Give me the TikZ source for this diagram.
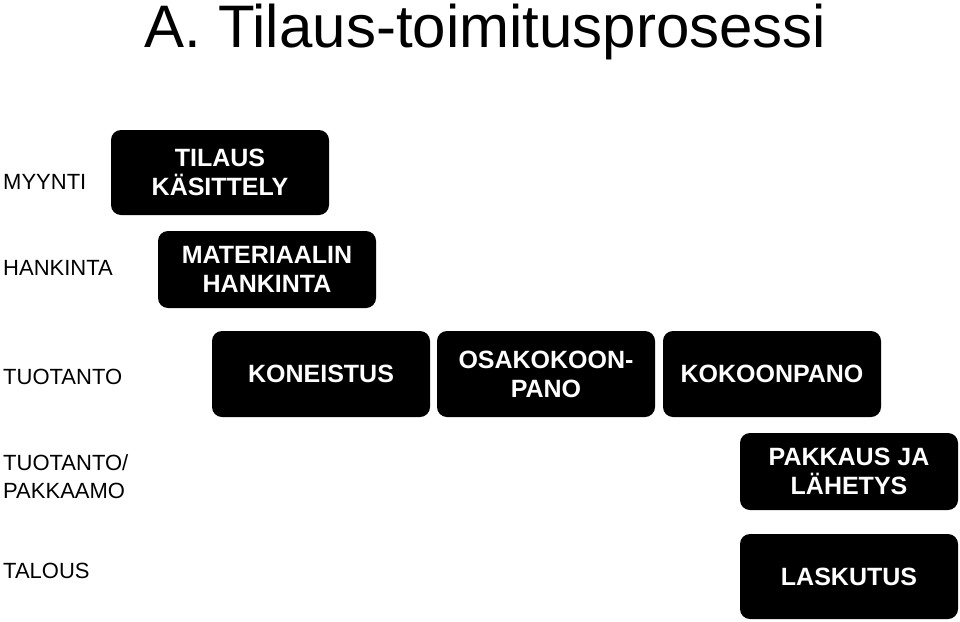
\documentclass[tikz,border=0pt]{standalone}
\usepackage{fontspec}
\setmainfont{Liberation Sans}
\begin{document}
\begin{tikzpicture}[x=1pt,y=-1pt,
  box/.style={fill=black, rounded corners=10pt, inner sep=0pt, text=white,
    font=\fontsize{25}{29}\selectfont\bfseries, align=center,
    minimum width=218pt},
  lane/.style={anchor=west, font=\fontsize{22}{28}\selectfont, align=left, inner sep=0pt}]
\useasboundingbox (0,0) rectangle (960,621);
\node[anchor=base, inner sep=0pt, font=\fontsize{60}{70}\selectfont] (title) at (485.5,47) {A. Tilaus-toimitusprosessi};

\node[lane] (l1) at (3,182) {MYYNTI};
\node[lane] (l2) at (3,268) {HANKINTA};
\node[lane] (l3) at (3,377) {TUOTANTO};
\node[lane] (l4) at (3,477) {TUOTANTO/\\PAKKAAMO};
\node[lane] (l5) at (3,571) {TALOUS};

\node[box, minimum height=85pt] (b1) at (220,172.5) {TILAUS\\KÄSITTELY};
\node[box, minimum height=77pt] (b2) at (267,269.5) {MATERIAALIN\\HANKINTA};
\node[box, minimum height=86pt] (b3) at (321,374) {KONEISTUS};
\node[box, minimum height=86pt] (b4) at (546,374) {OSAKOKOON-\\PANO};
\node[box, minimum height=86pt] (b5) at (772,374) {KOKOONPANO};
\node[box, minimum height=77pt] (b6) at (849,471.5) {PAKKAUS JA\\LÄHETYS};
\node[box, minimum height=85pt] (b7) at (849,576.5) {LASKUTUS};
\end{tikzpicture}
\end{document}
